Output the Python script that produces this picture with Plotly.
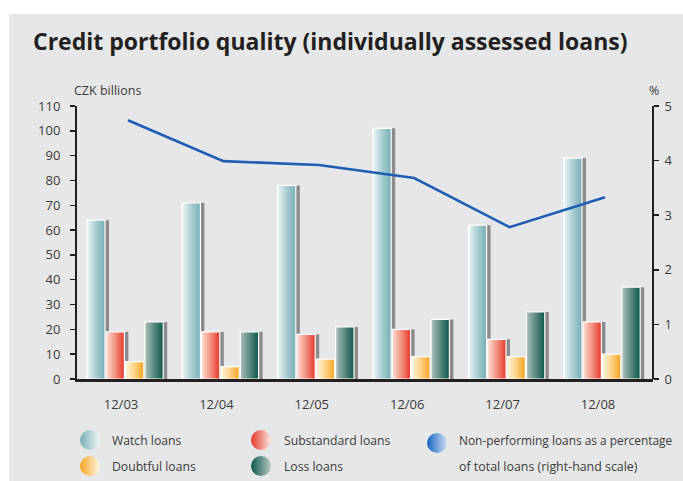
import plotly.graph_objects as go

# ---------------- data ----------------
categories = ["12/03", "12/04", "12/05", "12/06", "12/07", "12/08"]
watch_loans = [64, 71, 78, 101, 62, 89]
substandard_loans = [19, 19, 18, 20, 16, 23]
doubtful_loans = [7, 5, 8, 9, 9, 10]
loss_loans = [23, 19, 21, 24, 27, 37]
npl_percentage = [4.74, 3.99, 3.92, 3.68, 2.78, 3.33]
left_ticks = list(range(0, 111, 10))
right_ticks = [0, 1, 2, 3, 4, 5]
series_names = ["Watch loans", "Substandard loans", "Doubtful loans", "Loss loans"]

# ---------------- layout helpers ----------------
W, H = 683, 481

def px(x):                        # page pixel -> paper fraction
    return x / W

def py(y):
    return 1 - y / H

L, R, T, B = 77, 653, 106, 379
unit = 95.4
first_center = 121
x_range = [-(first_center - L) / unit, 5 + (R - (first_center + 5 * unit)) / unit]
line_shift = 7 / unit

BG = "#e6e7e8"
INK = "#231f20"
TXT = "#3a3a3a"
FONT = "Open Sans"

gradients = [
    ["#eef7f8", "#a9cdd2", "#79aeb5"],   # watch
    ["#fde0d6", "#f3907e", "#e4382b"],   # substandard
    ["#fff6de", "#fdd287", "#f5a420"],   # doubtful
    ["#aec1bc", "#5b8a82", "#0b584b"],   # loss
]

def hex2rgb(h):
    h = h.lstrip("#")
    return [int(h[i:i + 2], 16) for i in (0, 2, 4)]

def interp(stops, t):
    n = len(stops) - 1
    seg = min(int(t * n), n - 1)
    lt = t * n - seg
    a, b = hex2rgb(stops[seg]), hex2rgb(stops[seg + 1])
    c = [round(a[i] + (b[i] - a[i]) * lt) for i in range(3)]
    return "rgb(%d,%d,%d)" % tuple(c)

fig = go.Figure()

values = [watch_loans, substandard_loans, doubtful_loans, loss_loans]
pitch = 19.4 / unit
bar_w = 18.3 / unit
start0 = -34.3 / unit
shadow_dx = 4.0 / unit
n_slices = 10

for si, vals in enumerate(values):
    off = start0 + si * pitch
    # shadow
    fig.add_trace(go.Bar(
        x=categories, y=vals, offset=off + shadow_dx, width=bar_w,
        marker=dict(color="#8b8b8d", line=dict(width=0)),
        showlegend=False, hoverinfo="skip"))
    # gradient slices
    sw = bar_w / n_slices
    for k in range(n_slices):
        t = (k + 0.5) / n_slices
        fig.add_trace(go.Bar(
            x=categories, y=vals, offset=off + k * sw,
            width=sw * (1.6 if k < n_slices - 1 else 1.0),
            marker=dict(color=interp(gradients[si], t), line=dict(width=0)),
            showlegend=False, hoverinfo="skip"))
    # white outline
    fig.add_trace(go.Bar(
        x=categories, y=vals, offset=off, width=bar_w, name=series_names[si],
        marker=dict(color="rgba(0,0,0,0)", line=dict(color="white", width=1.2)),
        showlegend=False))

# NPL line on right scale
fig.add_trace(go.Scatter(
    x=categories, y=npl_percentage, xaxis="x2", yaxis="y2", mode="lines",
    line=dict(color="#1f5db3", width=2.6), name="NPL %", showlegend=False))

# legend markers (gradient circles), positioned in page pixels
leg_x = [90, 261, 437, 90, 261]
leg_y = [440, 440, 443, 466, 466]
leg_colors = ["#79aeb5", "#e4382b", "#1565c0", "#f5a420", "#0b584b"]
leg_light = ["#f2f9fa", "#fde6de", "#cfdcf3", "#fff8e6", "#b8c9c4"]
fig.add_trace(go.Scatter(
    x=leg_x, y=leg_y, xaxis="x3", yaxis="y3", mode="markers",
    marker=dict(size=20, color=leg_colors, symbol="circle",
                gradient=dict(type="horizontal", color=leg_light),
                line=dict(width=0)),
    showlegend=False, hoverinfo="skip", cliponaxis=False))

leg_texts = ["Watch loans", "Substandard loans", "Non-performing loans as a percentage",
             "Doubtful loans", "Loss loans", "of total loans (right-hand scale)"]
leg_tx = [110, 282, 457, 110, 282, 457]
leg_ty = [440, 440, 440, 466, 466, 466]
leg_size = [12.2, 12.2, 11.9, 12.2, 12.2, 12.4]

annotations = []
for t, x, y, s in zip(leg_texts, leg_tx, leg_ty, leg_size):
    annotations.append(dict(text=t, x=px(x), y=py(y), xref="paper", yref="paper",
                            xanchor="left", yanchor="middle", showarrow=False,
                            font=dict(family=FONT, size=s, color=TXT)))

annotations += [
    dict(text="<b>Credit portfolio quality (individually assessed loans)</b>",
         x=px(31), y=py(41), xref="paper", yref="paper", xanchor="left",
         yanchor="middle", showarrow=False,
         font=dict(family=FONT, size=23, color=INK)),
    dict(text="CZK billions", x=px(72), y=py(90), xref="paper", yref="paper",
         xanchor="left", yanchor="middle", showarrow=False,
         font=dict(family=FONT, size=12.5, color=TXT)),
    dict(text="%", x=px(654), y=py(90), xref="paper", yref="paper",
         xanchor="center", yanchor="middle", showarrow=False,
         font=dict(family=FONT, size=12.5, color=TXT)),
]

shapes = [
    # white frame strips of the original page (top and left)
    dict(type="rect", xref="paper", yref="paper", x0=0, x1=1, y0=py(14), y1=1,
         fillcolor="white", line=dict(width=0), layer="below"),
    dict(type="rect", xref="paper", yref="paper", x0=0, x1=px(9), y0=0, y1=1,
         fillcolor="white", line=dict(width=0), layer="below"),
]

fig.update_layout(
    template="none",
    width=W, height=H,
    margin=dict(l=0, r=0, t=0, b=0, pad=0, autoexpand=False),
    paper_bgcolor=BG, plot_bgcolor="rgba(0,0,0,0)",
    barmode="overlay", showlegend=False,
    font=dict(family=FONT, size=13, color=TXT),
    annotations=annotations, shapes=shapes,
    xaxis=dict(domain=[px(L), px(R)], type="category", categoryorder="array",
               categoryarray=categories, range=x_range, automargin=False,
               showline=True, linecolor=INK, linewidth=2.5, ticks="",
               showgrid=False, zeroline=False, ticklabelstandoff=12,
               tickfont=dict(family=FONT, size=13, color=TXT), fixedrange=True),
    yaxis=dict(domain=[py(B), py(T)], range=[0, 110], tickvals=left_ticks,
               automargin=False,
               showline=True, linecolor=INK, linewidth=2, ticks="outside",
               ticklen=5, tickwidth=1.5, tickcolor=INK, showgrid=False,
               zeroline=False, ticklabelstandoff=7,
               tickfont=dict(family=FONT, size=13, color=TXT), fixedrange=True),
    xaxis2=dict(domain=[px(L), px(R)], overlaying="x", type="category",
                categoryorder="array", categoryarray=categories, automargin=False,
                range=[x_range[0] - line_shift, x_range[1] - line_shift],
                visible=False, fixedrange=True),
    yaxis2=dict(overlaying="y", side="right", anchor="free", position=px(R),
                range=[0, 5], tickvals=right_ticks, automargin=False,
                showline=True, linecolor=INK, linewidth=2, ticks="outside",
                ticklen=5, tickwidth=1.5, tickcolor=INK, showgrid=False,
                zeroline=False, ticklabelstandoff=3,
                tickfont=dict(family=FONT, size=13, color=TXT), fixedrange=True),
    xaxis3=dict(domain=[0, 1], range=[0, W], visible=False,
                fixedrange=True, anchor="y3", automargin=False),
    yaxis3=dict(domain=[0, 1], range=[H, 0], visible=False,
                fixedrange=True, anchor="x3", automargin=False),
)

fig.write_html(
    "out.html",
    config={"displayModeBar": False, "staticPlot": True},
    post_script="document.body.style.margin='0';"
                "document.documentElement.style.overflow='hidden';"
                "document.body.style.overflow='hidden';",
)
